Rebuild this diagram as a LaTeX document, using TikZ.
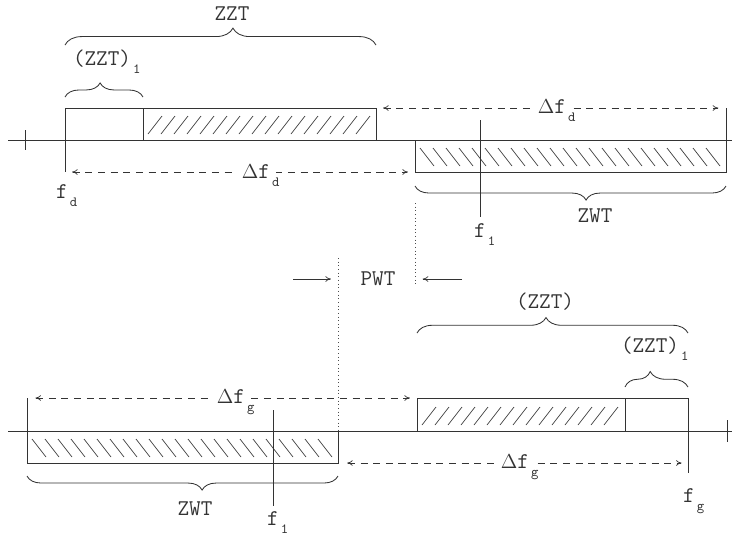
\documentclass[tikz,border=0pt]{standalone}
\usepackage{fontspec}
\usetikzlibrary{arrows.meta,positioning,decorations.pathreplacing,calc}
\tikzset{
  axis/.style={line width=0.6pt, black!80},
  bar/.style={line width=0.6pt, black!80},
  hatch/.style={line width=0.5pt, black!75},
  dim/.style={{To[length=4pt,width=4pt]}-{To[length=4pt,width=4pt]}, line width=0.5pt, black!80, dash pattern=on 5pt off 4pt},
  arr/.style={-{To[length=4pt,width=4pt]}, line width=0.5pt, black!80},
  guide/.style={line width=0.6pt, black!70, dotted},
  brc/.style={decorate, decoration={brace, amplitude=#1}, line width=0.6pt, black!80},
  lbl/.style={font=\ttfamily\fontsize{16}{16}\selectfont, text=black!80, anchor=base, inner sep=0pt},
  dlbl/.style={lbl, fill=white, inner xsep=4pt, inner ysep=1pt},
}
\newcommand{\lo}[1]{\rlap{\kern1.5pt\raisebox{-6pt}{\fontsize{10}{10}\selectfont #1}}}
\newcommand{\dlt}{{\fontsize{14}{14}\selectfont$\Delta$}}

\begin{document}
\begin{tikzpicture}[x=0.025cm, y=-0.025cm]
\useasboundingbox (0,0) rectangle (732,535);
% --- upper band: ZZT on the left, ZWT on the right ---
\coordinate (fd)    at (65,140);
\coordinate (fdlow) at (65,172);
\coordinate (zztTR) at (376,108);
\coordinate (zwtBL) at (415,172);
\coordinate (zwtTR) at (726,108);
\draw[axis] (8,140) -- (732,140);
\draw[axis] (25,130) -- (25,150);
\draw[bar] (65,108) rectangle (376,140);
\draw[bar] (143,108) -- (143,140);
\foreach \x in {148,161,...,356} \draw[hatch] (\x,134) -- ++(14,-18);
\draw[bar] (fd) -- (fdlow);
\draw[bar] (415,140) rectangle (726,172);
\foreach \x in {420,433,...,706} \draw[hatch] (\x,148) -- ++(14,18);
\draw[bar] (zwtTR) -- (726,140);
\draw[bar] (480,120) -- (480,217);
\draw[brc=12pt, decoration={aspect=0.54}] (65,45) -- (376,45);
\draw[brc=10pt, decoration={aspect=0.45}] (65,97) -- (143,97);
\draw[brc=10pt, decoration={aspect=0.45}] (726,186) -- (415,186);
\draw[dim, shorten <=5pt, shorten >=5.5pt] (zztTR) -- (zwtTR);
\draw[dim, shorten <=5pt, shorten >=5pt] (fdlow) -- (zwtBL);
\node[lbl] (zzt)   at (232,20)  {ZZT};
\node[lbl] (zzt1)  at (102,65)  {(ZZT)\lo{1}};
\node[lbl] (fdl)   at (62,198)  {f\lo{d}};
\node[dlbl] (dfd1) at (552,113) {\dlt f\lo{d}};
\node[dlbl] (dfd2) at (256,178) {\dlt f\lo{d}};
\node[lbl] (zwt)   at (595,222) {ZWT};
\node[lbl] (f1)    at (480,237) {f\lo{1}};
% --- gap between the bands ---
\coordinate (pwtR) at (415,279);
\coordinate (pwtL) at (338,279);
\coordinate (inL)  at (293,279);
\coordinate (inR)  at (462,279);
\draw[guide] (415,203) -- (415,287);
\draw[guide] (338,258) -- (338,431);
\draw[arr, shorten >=5pt] (inL) -- (pwtL);
\draw[arr, shorten >=5.5pt] (inR) -- (pwtR);
\node[lbl] (pwt) at (378,285) {PWT};
% --- lower band: ZWT on the left, ZZT on the right ---
\coordinate (zwtL)  at (27,398);
\coordinate (zztBL) at (417,398);
\coordinate (zwtBR) at (338,463);
\coordinate (fglow) at (688,463);
\draw[axis] (8,431) -- (732,431);
\draw[axis] (727,420) -- (727,442);
\draw[bar] (27,431) rectangle (338,463);
\foreach \x in {32,45,...,318} \draw[hatch] (\x,439) -- ++(14,18);
\draw[bar] (zwtL) -- (27,431);
\draw[bar] (273,410) -- (273,506);
\draw[bar] (417,398) rectangle (688,431);
\draw[bar] (625,398) -- (625,431);
\foreach \x in {422,435,...,604} \draw[hatch] (\x,425) -- ++(14,-18);
\draw[bar] (688,431) -- (688,473);
\draw[brc=11pt, decoration={aspect=0.476}] (417,333) -- (688,333);
\draw[brc=11pt, decoration={aspect=0.4}] (625,387) -- (688,387);
\draw[brc=10pt, decoration={aspect=0.437}] (338,476) -- (27,476);
\draw[dim, shorten <=6pt, shorten >=5pt] (zwtL) -- (zztBL);
\draw[dim, shorten <=6.5pt, shorten >=4.5pt] (zwtBR) -- (fglow);
\node[lbl] (zztb)  at (545,308) {(ZZT)};
\node[lbl] (zztb1) at (650,352) {(ZZT)\lo{1}};
\node[dlbl] (dfg1) at (231,403) {\dlt f\lo{g}};
\node[dlbl] (dfg2) at (515,468) {\dlt f\lo{g}};
\node[lbl] (fgl)   at (689,502) {f\lo{g}};
\node[lbl] (zwtb)  at (195,515) {ZWT};
\node[lbl] (f1b)   at (273,525) {f\lo{1}};
\end{tikzpicture}
\end{document}
